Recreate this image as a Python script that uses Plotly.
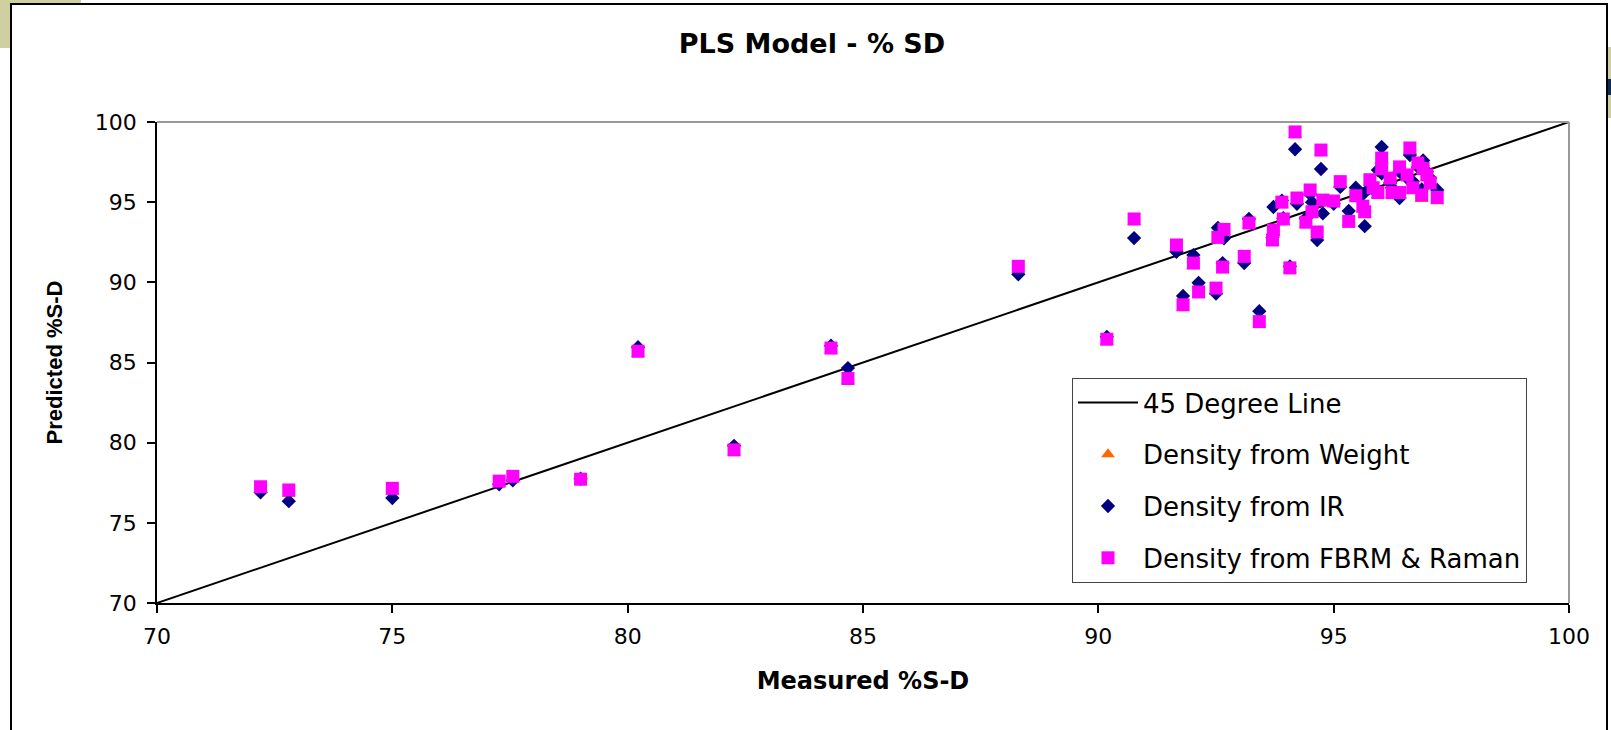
import plotly.graph_objects as go

# ---- data ----
measured = [72.2, 72.8, 75.0, 77.27, 77.56, 79.0, 80.22, 82.26, 84.32, 84.68,
            88.3, 90.18, 90.76, 91.66, 91.8, 92.02, 92.13, 92.5, 92.54, 92.67,
            92.64, 93.1, 93.2, 93.42, 93.7, 93.72, 93.9, 93.93, 94.07, 94.18,
            94.22, 94.41, 94.5, 94.54, 94.65, 94.73, 94.77, 95.0, 95.14, 95.32,
            95.47, 95.62, 95.66, 95.77, 95.84, 95.94, 96.02, 96.02, 96.2, 96.24,
            96.4, 96.4, 96.56, 96.62, 96.68, 96.79, 96.9, 96.98, 97.05, 96.87,
            97.2]
pred_fbrm = [77.25, 77.05, 77.15, 77.6, 77.9, 77.72, 85.7, 79.55, 85.9, 84.0,
             91.0, 86.45, 93.95, 92.33, 88.6, 91.2, 89.4, 89.64, 92.8, 93.3,
             90.95, 91.62, 93.7, 87.55, 92.64, 93.26, 95.0, 93.95, 90.9, 99.38,
             95.26, 93.75, 95.76, 94.4, 93.14, 98.25, 95.13, 95.07, 96.28, 93.8,
             95.4, 94.75, 94.4, 96.4, 95.9, 95.6, 97.75, 97.1, 96.5, 95.6,
             97.2, 95.6, 96.7, 98.38, 95.9, 97.44, 97.1, 96.7, 96.2, 95.45,
             95.3]
pred_ir = [76.9, 76.35, 76.55, 77.4, 77.65, 77.75, 85.95, 79.8, 86.05, 84.65,
           90.5, 86.6, 92.76, 91.9, 89.15, 91.7, 89.97, 89.3, 93.4, 92.75,
           91.2, 91.2, 93.95, 88.2, 92.8, 94.7, 95.1, 94.0, 91.0, 98.3,
           94.9, 94.0, 95.5, 95.0, 92.64, 97.07, 94.3, 94.9, 95.95, 94.45,
           95.9, 95.5, 93.5, 95.9, 95.8, 97.0, 98.44, 96.8, 96.2, 95.9,
           96.9, 95.26, 96.5, 97.94, 96.3, 97.2, 97.6, 96.9, 96.5, 95.8,
           95.76]
pred_weight = [77.05, 76.8, 76.95, 77.45, 77.75, 77.6, 85.55, 79.4, 85.75, 83.85,
               90.8, 86.3, 93.8, 92.15, 88.4, 91.05, 89.25, 89.45, 92.65, 93.15,
               90.8, 91.45, 93.55, 87.35, 92.45, 93.1, 94.85, 93.8, 90.75, 99.2,
               95.1, 93.6, 95.6, 94.25, 92.95, 98.1, 94.95, 94.9, 96.1, 93.65,
               95.25, 94.55, 94.2, 96.25, 95.75, 95.45, 97.6, 96.95, 96.35, 95.4,
               97.05, 95.45, 96.55, 98.2, 95.75, 97.3, 96.95, 96.55, 96.0, 95.2,
               95.05]
line_x = [70, 100]
line_y = [70, 100]
ticks = [70, 75, 80, 85, 90, 95, 100]

W, H = 1611, 730
L, R, T, B = 157, 1569, 122, 603
PW, PH = R - L, B - T


def px(x):
    return (x - L) / PW


def py(y):
    return (B - y) / PH


fig = go.Figure()
fig.add_trace(go.Scatter(x=line_x, y=line_y, mode="lines", name="45 Degree Line",
                         line=dict(color="black", width=2), legendgroup="a"))
fig.add_trace(go.Scatter(x=measured, y=pred_weight, mode="markers", name="Density from Weight",
                         marker=dict(symbol="triangle-up", size=12, color="#FF6600",
                                     line=dict(width=0)), legendgroup="b"))
fig.add_trace(go.Scatter(x=measured, y=pred_ir, mode="markers", name="Density from IR",
                         marker=dict(symbol="diamond", size=11, color="#000080",
                                     line=dict(width=0)), legendgroup="c"))
fig.add_trace(go.Scatter(x=measured, y=pred_fbrm, mode="markers", name="Density from FBRM & Raman",
                         marker=dict(symbol="square", size=13, color="#FF00FF",
                                     line=dict(width=0)), legendgroup="d"))

shapes = [
    # beige slide background pieces
    dict(type="rect", xref="paper", yref="paper", x0=px(0), x1=px(81), y0=py(48), y1=py(0),
         fillcolor="#CFCF9F", line=dict(width=0), layer="below"),
    dict(type="rect", xref="paper", yref="paper", x0=px(1608), x1=px(1611), y0=py(118), y1=py(47),
         fillcolor="#CFCF9F", line=dict(width=0), layer="below"),
    dict(type="rect", xref="paper", yref="paper", x0=px(1608), x1=px(1611), y0=py(95), y1=py(79),
         fillcolor="#0B2A55", line=dict(width=0), layer="below"),
    # chart frame
    dict(type="rect", xref="paper", yref="paper", x0=px(11), x1=px(1607), y0=py(745), y1=py(4),
         fillcolor="white", line=dict(color="black", width=2), layer="below"),
    # plot area border (top, right)
    dict(type="line", xref="paper", yref="paper", x0=0, x1=1, y0=1, y1=1,
         line=dict(color="#999999", width=2)),
    dict(type="line", xref="paper", yref="paper", x0=1, x1=1, y0=0, y1=1,
         line=dict(color="#999999", width=2)),
]

fig.update_layout(
    width=W, height=H,
    margin=dict(l=L, r=W - R, t=T, b=H - B, pad=0),
    paper_bgcolor="white", plot_bgcolor="white",
    shapes=shapes,
    title=dict(text="<b>PLS Model - % SD</b>", xref="container", yref="container",
               x=812 / W, y=1 - 44 / H, xanchor="center", yanchor="middle",
               font=dict(family="DejaVu Sans", size=27, color="black")),
    showlegend=True,
    legend=dict(x=px(1072), y=py(378), xanchor="left", yanchor="top",
                bgcolor="white", bordercolor="#444444", borderwidth=1,
                font=dict(family="DejaVu Sans", size=26, color="black"),
                itemwidth=60,
                tracegroupgap=15, traceorder="grouped"),
    font=dict(family="DejaVu Sans", color="black"),
)
fig.update_xaxes(range=[70, 100], tickvals=ticks, ticktext=[str(t) for t in ticks],
                 showgrid=False, zeroline=False, showline=True, linecolor="black", linewidth=1.5,
                 ticks="outside", ticklen=8, tickcolor="black", tickwidth=1.5,
                 ticklabelstandoff=5,
                 tickfont=dict(family="DejaVu Sans", size=22, color="black"),
                 title=dict(text="<b>Measured %S-D</b>", standoff=24,
                            font=dict(family="DejaVu Sans", size=24, color="black")))
fig.update_yaxes(range=[70, 100], tickvals=ticks, ticktext=[str(t) for t in ticks],
                 showgrid=False, zeroline=False, showline=True, linecolor="black", linewidth=1.5,
                 ticks="outside", ticklen=8, tickcolor="black", tickwidth=1.5,
                 ticklabelstandoff=6,
                 tickfont=dict(family="DejaVu Sans", size=22, color="black"),
                 title=dict(text="<b>Predicted %S-D</b>", standoff=26,
                            font=dict(family="Liberation Sans", size=22, color="black")))

fig.write_html("out.html", config={"displayModeBar": False},
               post_script="document.body.style.margin='0';")
